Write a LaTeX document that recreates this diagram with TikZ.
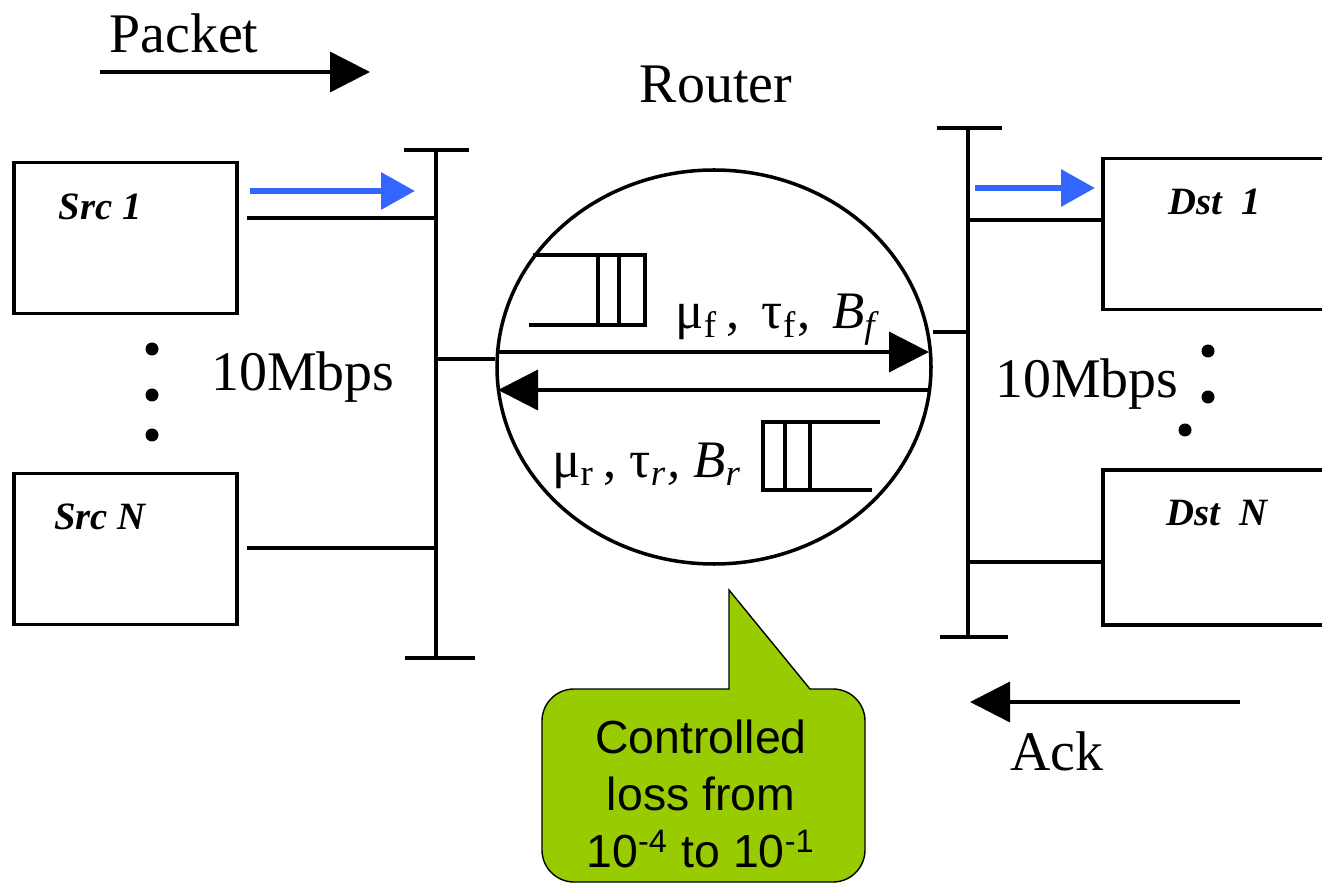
\documentclass[tikz,border=0pt]{standalone}
\usepackage{fontspec}
\setmainfont{Liberation Serif}
\newfontfamily\calloutfont{Liberation Sans}
\usepackage{xcolor}
\usepackage{tikz}
\usetikzlibrary{positioning,shapes.geometric,arrows.meta}
\definecolor{pktblue}{HTML}{3366FF}
\definecolor{lossgreen}{HTML}{99CC00}

\begin{document}
\begin{tikzpicture}[
    line width=1pt,
    >={Triangle[length=0.4cm,width=0.4cm]},
    every node/.style={align=center},
    bigtext/.style={
        font=\fontsize{15.9}{19}\selectfont,
        inner sep=0pt
    },
    host/.style={
        rectangle,
        draw=black,
        minimum width=2.23cm,
        minimum height=1.51cm,
        inner sep=0pt
    },
    hostname/.style={
        font=\fontsize{11}{13}\selectfont\bfseries\itshape,
        inner sep=0pt
    },
    router/.style={
        ellipse,
        draw=black,
        minimum width=4.34cm,
        minimum height=3.94cm,
        inner sep=0pt
    },
    param/.style={
        font=\fontsize{15}{17}\selectfont,
        inner sep=0pt
    },
    flow/.style={
        pktblue,
        line width=1.8pt,
        -{Triangle[length=0.34cm,width=0.36cm]}
    },
    callout/.style={
        draw=black,
        thin,
        fill=lossgreen
    },
    losstext/.style={
        font=\calloutfont\fontsize{13.2}{16.2}\selectfont,
        inner sep=0pt
    },
]

\useasboundingbox (0,0) rectangle (13.22,-8.84);
\clip (0,0) rectangle (13.22,-8.84);

\node[bigtext, anchor=base] (pkt) at (1.84,-0.53) {Packet};
\coordinate (pkts) at (1.00,-0.72);
\coordinate (pkte) at (3.70,-0.72);
\draw[->] (pkts) -- (pkte);

\node[bigtext, anchor=base] (rtrlbl) at (7.16,-1.03) {Router};
\node[router] (router) at (7.14,-3.67) {};

\node[host] (src1) at (1.255,-2.38) {};
\node[host] (srcN) at (1.255,-5.49) {};
\node[host, minimum width=2.40cm] (dst1) at (12.23,-2.34) {};
\node[host, minimum width=2.40cm, minimum height=1.55cm] (dstN) at (12.23,-5.475) {};

\node[hostname, anchor=base] (src1lbl) at (1.00,-2.20) {Src 1};
\node[hostname, anchor=base] (srcNlbl) at (1.00,-5.30) {Src N};
\node[hostname, anchor=base] (dst1lbl) at (12.15,-2.15) {Dst\enspace 1};
\node[hostname, anchor=base] (dstNlbl) at (12.17,-5.25) {Dst\enspace N};

\coordinate (lbtop) at (4.36,-1.50);
\coordinate (lbbot) at (4.36,-6.58);
\draw (lbtop) -- (lbbot);
\draw ([xshift=-0.32cm]lbtop) -- ([xshift=0.33cm]lbtop);
\draw ([xshift=-0.31cm]lbbot) -- ([xshift=0.39cm]lbbot);

\coordinate (rbtop) at (9.68,-1.28);
\coordinate (rbbot) at (9.68,-6.37);
\draw (rbtop) -- (rbbot);
\draw ([xshift=-0.31cm]rbtop) -- ([xshift=0.34cm]rbtop);
\draw ([xshift=-0.28cm]rbbot) -- ([xshift=0.40cm]rbbot);

\coordinate (s1tap) at (2.47,-2.18);
\coordinate (sNtap) at (2.47,-5.48);
\draw (s1tap) -- (s1tap -| lbtop);
\draw (sNtap) -- (sNtap -| lbtop);

\coordinate (d1tap) at (11.03,-2.20);
\coordinate (dNtap) at (11.03,-5.62);
\draw (d1tap -| rbtop) -- (d1tap);
\draw (dNtap -| rbtop) -- (dNtap);

\coordinate (lrtap) at (4.36,-3.59);
\coordinate (rrtap) at (9.68,-3.32);
\draw (lrtap) -- (lrtap -| router.west);
\draw (rrtap -| router.east) -- (rrtap);

\coordinate (fwdin) at (4.98,-3.52);
\coordinate (fwdout) at (9.29,-3.52);
\coordinate (revin) at (9.30,-3.90);
\coordinate (revout) at (4.98,-3.90);
\draw[->] (fwdin) -- (fwdout);
\draw[->] (revin) -- (revout);

\draw (5.33,-2.55) -- (6.45,-2.55) -- (6.45,-3.25) -- (5.29,-3.25);
\draw (5.98,-2.55) -- (5.98,-3.25);
\draw (6.19,-2.55) -- (6.19,-3.25);
\draw (8.80,-4.22) -- (7.63,-4.22) -- (7.63,-4.90) -- (8.72,-4.90);
\draw (7.85,-4.22) -- (7.85,-4.90);
\draw (8.10,-4.22) -- (8.10,-4.90);

\node[param, anchor=base] (fwdpar) at (7.76,-3.29) {μ\textsubscript{f}\,, \,τ\textsubscript{f}, \,\textit{B\textsubscript{f}}};
\node[param, anchor=base] (revpar) at (6.47,-4.78) {μ\textsubscript{r}\,, τ\textit{\textsubscript{r},} \textit{B\textsubscript{r}}};

\coordinate (s1fs) at (2.50,-1.91);
\coordinate (s1fe) at (4.15,-1.91);
\coordinate (d1fs) at (9.75,-1.88);
\coordinate (d1fe) at (10.95,-1.88);
\draw[flow] (s1fs) -- (s1fe);
\draw[flow] (d1fs) -- (d1fe);

\fill (1.52,-3.49) circle (0.065);
\fill (1.52,-3.95) circle (0.065);
\fill (1.52,-4.35) circle (0.065);
\fill (12.08,-3.51) circle (0.065);
\fill (12.08,-3.97) circle (0.065);
\fill (11.85,-4.30) circle (0.065);

\node[bigtext, anchor=base] (lrate) at (3.03,-3.91) {10Mbps};
\node[bigtext, anchor=base] (rrate) at (10.87,-3.98) {10Mbps};

\coordinate (acks) at (12.40,-7.02);
\coordinate (acke) at (9.70,-7.02);
\draw[->] (acks) -- (acke);
\node[bigtext, anchor=base] (ack) at (10.57,-7.70) {Ack};

\draw[callout] (5.42,-8.50) -- (5.42,-7.21) arc[start angle=180, end angle=90, radius=0.32] -- (7.29,-6.89) -- (7.29,-5.90) -- (8.10,-6.89) -- (8.33,-6.89) arc[start angle=90, end angle=0, radius=0.32] -- (8.65,-8.50) arc[start angle=0, end angle=-90, radius=0.32] -- (5.74,-8.82) arc[start angle=270, end angle=180, radius=0.32] -- cycle;
\node[losstext] (loss) at (7.01,-7.94) {Controlled\\loss from\\10\textsuperscript{-4} to 10\textsuperscript{-1}};

\end{tikzpicture}
\end{document}
